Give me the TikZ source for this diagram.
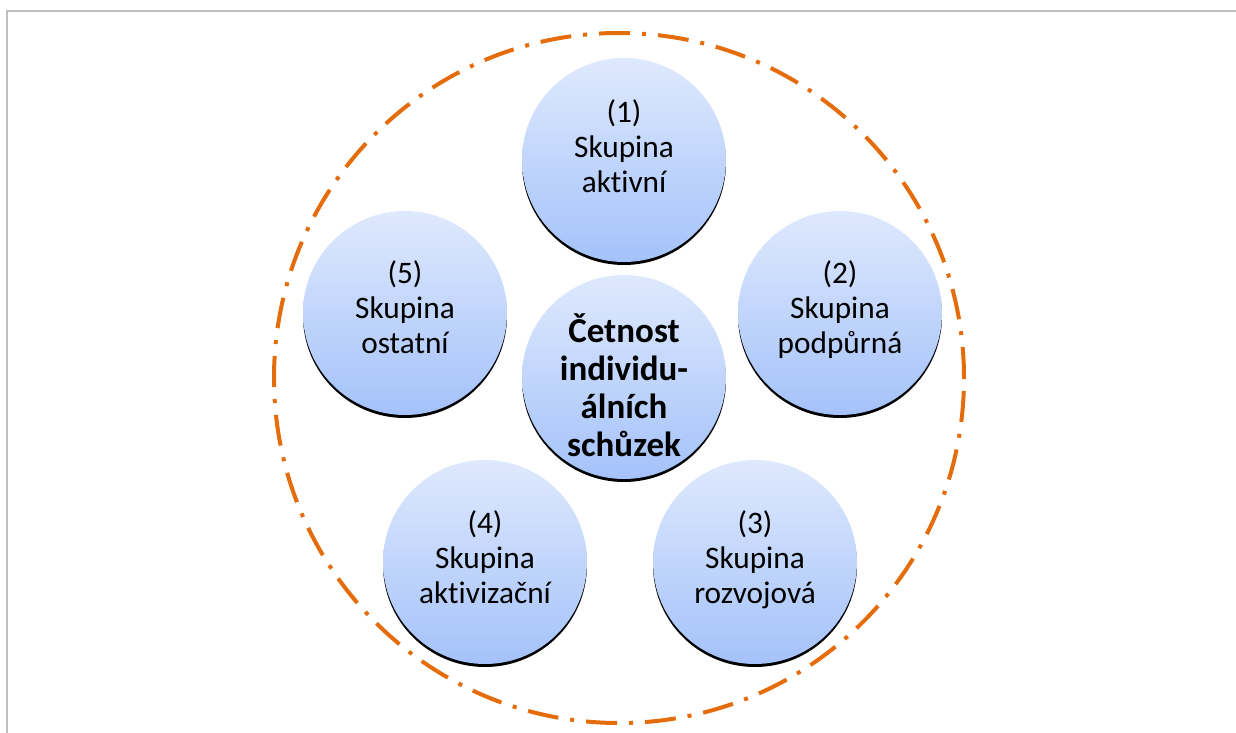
\documentclass[tikz,border=0pt]{standalone}
\usepackage{fontspec}
\setmainfont{Carlito}[Ligatures=NoCommon]
\definecolor{balltop}{RGB}{223,233,253}
\definecolor{ballbot}{RGB}{164,194,250}
\definecolor{ringorange}{RGB}{228,108,10}
\definecolor{framegray}{RGB}{191,191,191}
\begin{document}
\begin{tikzpicture}[x=1pt,y=-1pt,
  ball/.style={circle, minimum size=204pt, inner sep=0pt, top color=balltop, bottom color=ballbot, draw=none,
    preaction={fill=black, transform canvas={yshift=-3pt}}},
  balltext/.style={align=center, inner sep=0pt, font=\fontsize{31.3}{35}\selectfont},
  centertext/.style={align=center, inner sep=0pt, font=\fontsize{35}{38}\selectfont\bfseries},
  ring/.style={circle, minimum size=690pt, inner sep=0pt, draw=ringorange, line width=4pt,
    dash pattern=on 31pt off 12pt on 4pt off 12pt},
  frameline/.style={draw=framegray, line width=2pt}]
\useasboundingbox (0,0) rectangle (1236,733);
\draw[frameline] (7.3,733) -- (7.3,10.8) -- (1236,10.8);
\node[ring] (outer) at (619,378) {};
\node[ball] (c1) at (624,160) {};
\node[ball] (c2) at (840,313) {};
\node[ball] (c3) at (755,562) {};
\node[ball] (c4) at (485,562) {};
\node[ball] (c5) at (405,313) {};
\node[ball] (c0) at (624,377) {};
\node[balltext] (t1) at ([yshift=10pt]c1.center) {\strut(1)\\Skupina\\aktivní\strut};
\node[balltext] (t2) at ([yshift=2pt]c2.center) {\strut(2)\\Skupina\\podpůrná\strut};
\node[balltext] (t3) at ([yshift=1pt]c3.center) {\strut(3)\\Skupina\\rozvojová\strut};
\node[balltext] (t4) at ([yshift=1pt]c4.center) {\strut(4)\\Skupina\\aktivizační\strut};
\node[balltext] (t5) at ([yshift=2pt]c5.center) {\strut(5)\\Skupina\\ostatní\strut};
\node[centertext] (t0) at ([yshift=-14pt]c0.center) {\strut Četnost\\individu-\\álních\\schůzek\strut};
\end{tikzpicture}
\end{document}
